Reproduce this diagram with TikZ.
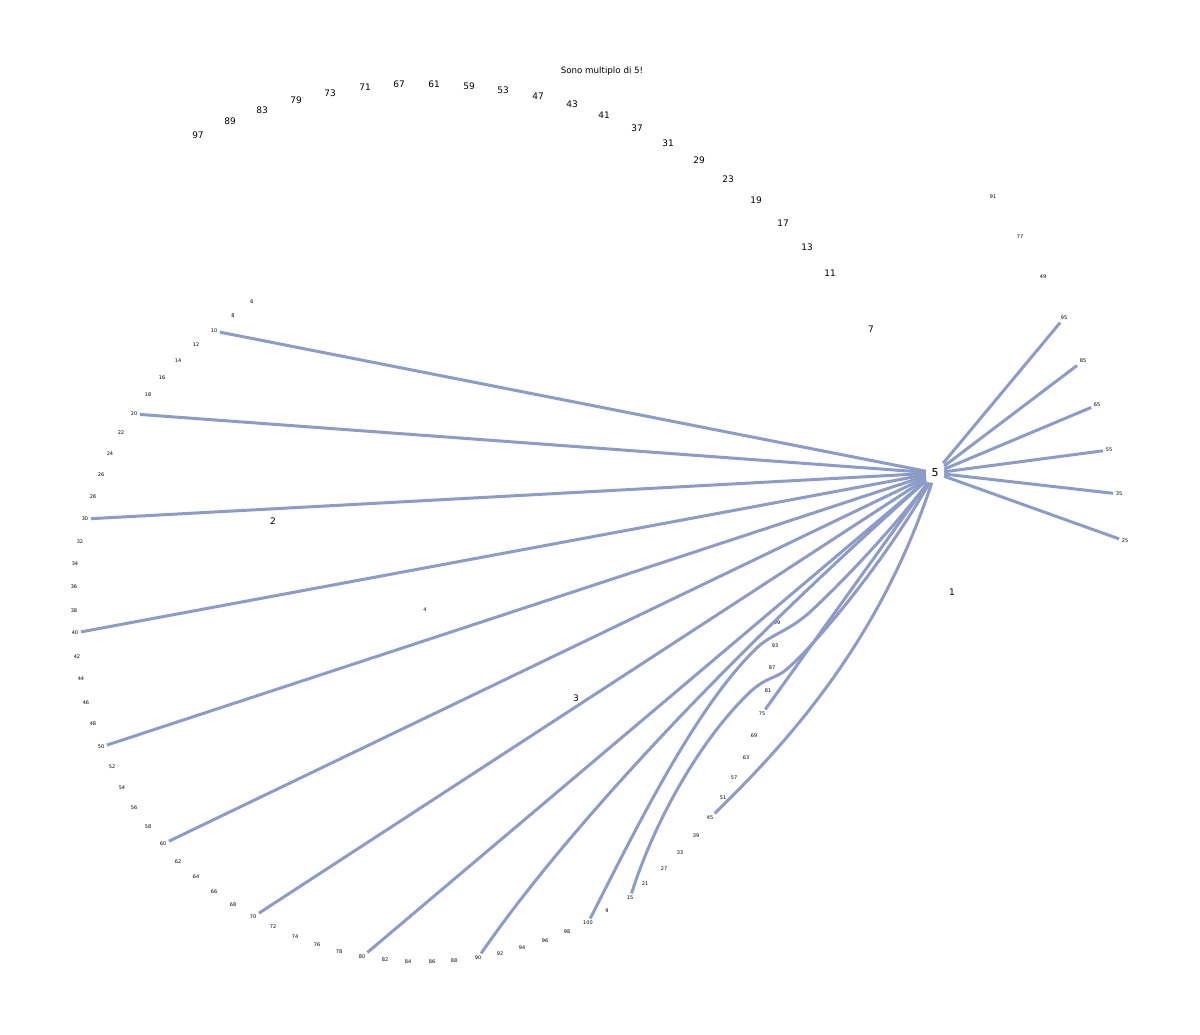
\documentclass[tikz,border=0pt]{standalone}
\usepackage{fontspec}
\setmainfont{DejaVu Sans}
\definecolor{linkblue}{RGB}{140,155,200}

\begin{document}
\begin{tikzpicture}[x=1pt,y=-1pt,
        leaf/.style={inner sep=2.5pt,font=\fontsize{5}{6}\selectfont},
        prime/.style={inner sep=2pt,font=\fontsize{9}{11}\selectfont},
        hub/.style={inner sep=5.5pt,font=\fontsize{11}{13}\selectfont},
        link/.style={draw=linkblue,line width=3pt}]
    \useasboundingbox (0,0) rectangle (1200,1034);
    \node[prime,font=\fontsize{8.7}{10}\selectfont] (title) at (602,71) {Sono multiplo di 5!};
    % primi sull'arco alto
    \foreach \n/\x/\y in {97/198/135,89/230/121,83/262/110,79/296/100,73/330/93,71/365/87,
            67/399/84,61/434/84,59/469/86,53/503/90,47/538/96,43/572/104,41/604/115,
            37/637/128,31/668/143,29/699/160,23/728/179,19/756/200,17/783/223,
            13/807/247,11/830/273,7/871/329,1/952/592,2/273/521,3/576/698}
        \node[prime] (n\n) at (\x,\y) {\n};
    % pari
    \foreach \n/\x/\y in {4/425/610,6/252/302,8/233/316,10/214/331,12/196/345,14/178/361,
            16/162/378,18/148/395,20/134/414,22/121/433,24/110/454,26/101/475,28/93/497,
            30/85/519,32/80/542,34/75/564,36/74/587,38/74/611,40/75/633,42/77/657,
            44/81/679,46/86/703,48/93/724,50/101/747,52/112/767,54/122/788,56/134/808,
            58/148/827,60/163/844,62/178/862,64/196/877,66/214/892,68/233/905,
            70/253/917,72/273/927,74/295/937,76/317/945,78/339/952,80/362/957,
            82/385/960,84/408/962,86/432/962,88/454/961,90/478/958,92/500/954,
            94/522/948,96/545/941,98/567/932,100/588/923}
        \node[leaf] (n\n) at (\x,\y) {\n};
    % dispari multipli di 3
    \foreach \n/\x/\y in {9/607/911,15/630/898,21/645/884,27/664/869,33/680/853,
            39/696/836,45/710/818,51/723/798,57/734/778,63/746/758,69/754/736,
            75/762/714,81/768/691,87/772/668,93/775/646,99/777/623}
        \node[leaf] (n\n) at (\x,\y) {\n};
    % 5 e 7
    \foreach \n/\x/\y in {91/993/197,77/1020/237,49/1043/277,95/1064/318,85/1083/361,
            65/1097/405,55/1109/450,35/1119/494,25/1125/541}
        \node[leaf] (n\n) at (\x,\y) {\n};
    \node[hub] (five) at (935,473) {5};
    %
    \foreach \t in {10,20,30,40,50,60,70,80,75,25,35,55,65,85,95}
        \draw[link] (five) -- (n\t);
    \draw[link] (n90) .. controls (545,860) and (690,690) .. (five);
    \draw[link] (n100) .. controls (640,820) and (700,700) .. (760,645)
        .. controls (775,633) and (790,630) .. (810,612)
        .. controls (850,575) and (900,520) .. (five);
    \draw[link] (n15) .. controls (655,820) and (700,740) .. (750,692)
        .. controls (762,681) and (770,679) .. (780,674)
        .. controls (800,663) and (880,570) .. (five);
    \draw[link] (n45) .. controls (790,740) and (880,640) .. (five);
\end{tikzpicture}
\end{document}
